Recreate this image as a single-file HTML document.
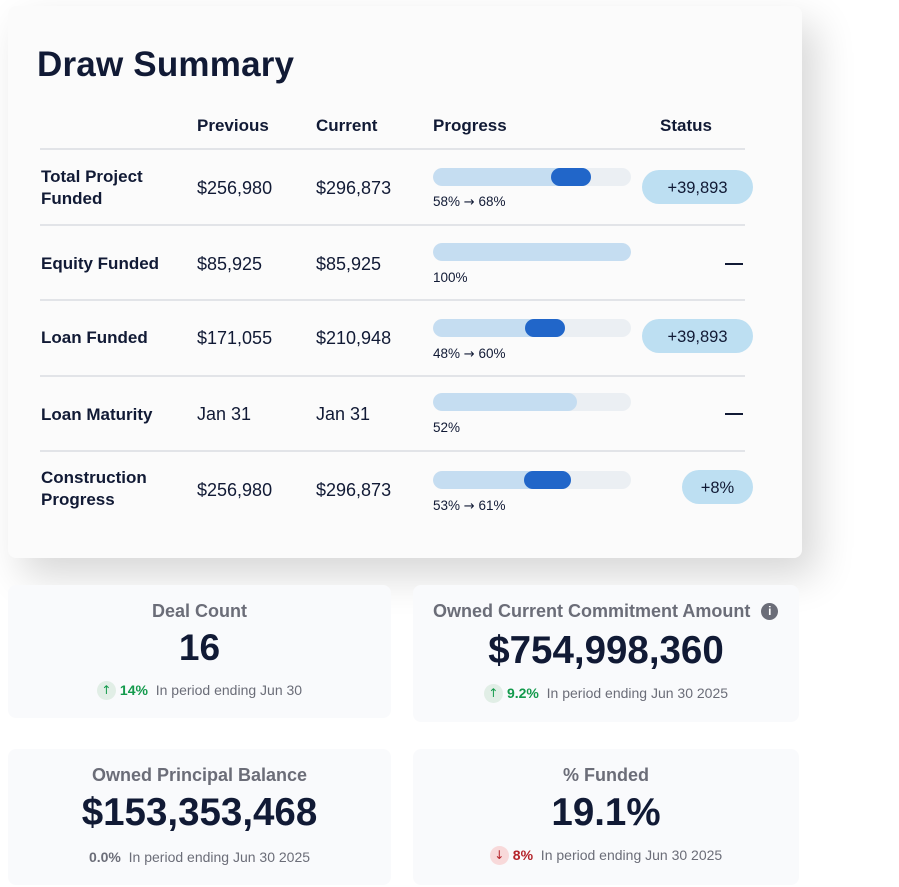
<!DOCTYPE html>
<html><head><meta charset="utf-8"><style>
*{margin:0;padding:0;box-sizing:border-box}
body{width:899px;height:887px;background:#fff;font-family:"Liberation Sans",sans-serif;color:#111a35;position:relative;overflow:hidden}
.a{position:absolute;white-space:nowrap}
.main{position:absolute;left:8px;top:6px;width:794px;height:552px;background:#fbfbfb;border-radius:8px;box-shadow:14px 18px 40px rgba(0,0,0,0.16)}
.h{font-size:17px;font-weight:bold;top:116px}
.lbl{font-size:17px;font-weight:bold;left:41px;line-height:22px}
.val{font-size:18px}
.line{position:absolute;left:40px;width:705px;height:2px;background:#e2e4e8}
.track{position:absolute;left:433px;width:198px;height:18px;border-radius:9px;background:#ebeff3;overflow:hidden}
.fill{position:absolute;left:0;top:0;height:18px;border-radius:9px;background:#c5ddf1}
.dark{position:absolute;top:0;height:18px;border-radius:9px;background:#2166c9}
.pt{font-size:13.5px;left:433px}
.ar{font-family:"DejaVu Sans",sans-serif;font-size:13px}
.pill{position:absolute;height:34px;border-radius:17px;background:#bddff2;font-size:16.5px;text-align:center;line-height:36px}
.dash{position:absolute;left:725px;width:18px;height:2px;background:#111a35}
.card{position:absolute;background:#f9fafc;border-radius:8px}
.ct{position:absolute;left:0;right:0;text-align:center;font-size:18px;font-weight:bold;color:#6b6d78}
.cv{position:absolute;left:0;right:0;text-align:center;font-size:38.5px;font-weight:bold;color:#111a35}
.cs{position:absolute;left:0;right:0;text-align:center;font-size:14px;color:#6b6d78}
.ic{display:inline-block;width:19px;height:19px;border-radius:50%;vertical-align:middle;font-family:"DejaVu Sans",sans-serif;font-size:12px;line-height:19px;text-align:center;margin-right:4px;position:relative;top:-1px}
.up{background:#e1eee6;color:#139a4c}
.dn{background:#f8d9da;color:#b4232a}
.g{color:#139a4c;font-weight:bold}
.r{color:#b4232a;font-weight:bold}
.z{color:#6b6d78;font-weight:bold}
</style></head><body>
<div class="main"></div>
<div class="a" style="left:37px;top:45px;font-size:35px;font-weight:bold;letter-spacing:0.2px">Draw Summary</div>
<div class="a h" style="left:197px">Previous</div>
<div class="a h" style="left:316px">Current</div>
<div class="a h" style="left:433px">Progress</div>
<div class="a h" style="left:660px">Status</div>
<div class="line" style="top:148px"></div>
<div class="line" style="top:224px"></div>
<div class="line" style="top:299px"></div>
<div class="line" style="top:375px"></div>
<div class="line" style="top:450px"></div>

<div class="a lbl" style="top:166px">Total Project<br>Funded</div>
<div class="a val" style="left:197px;top:178px">$256,980</div>
<div class="a val" style="left:316px;top:178px">$296,873</div>
<div class="track" style="top:168px"><div class="fill" style="width:158px"></div><div class="dark" style="left:118px;width:40px"></div></div>
<div class="a pt" style="top:194px">58% <span class="ar">→</span> 68%</div>
<div class="pill" style="left:642px;top:170px;width:111px">+39,893</div>

<div class="a lbl" style="top:253px">Equity Funded</div>
<div class="a val" style="left:197px;top:254px">$85,925</div>
<div class="a val" style="left:316px;top:254px">$85,925</div>
<div class="track" style="top:243px"><div class="fill" style="width:198px"></div></div>
<div class="a pt" style="top:270px">100%</div>
<div class="dash" style="top:263px"></div>

<div class="a lbl" style="top:327px">Loan Funded</div>
<div class="a val" style="left:197px;top:328px">$171,055</div>
<div class="a val" style="left:316px;top:328px">$210,948</div>
<div class="track" style="top:319px"><div class="fill" style="width:132px"></div><div class="dark" style="left:92px;width:40px"></div></div>
<div class="a pt" style="top:346px">48% <span class="ar">→</span> 60%</div>
<div class="pill" style="left:642px;top:319px;width:111px">+39,893</div>

<div class="a lbl" style="top:404px">Loan Maturity</div>
<div class="a val" style="left:197px;top:404px">Jan 31</div>
<div class="a val" style="left:316px;top:404px">Jan 31</div>
<div class="track" style="top:393px"><div class="fill" style="width:144px"></div></div>
<div class="a pt" style="top:420px">52%</div>
<div class="dash" style="top:413px"></div>

<div class="a lbl" style="top:467px">Construction<br>Progress</div>
<div class="a val" style="left:197px;top:480px">$256,980</div>
<div class="a val" style="left:316px;top:480px">$296,873</div>
<div class="track" style="top:471px"><div class="fill" style="width:138px"></div><div class="dark" style="left:91px;width:47px"></div></div>
<div class="a pt" style="top:498px">53% <span class="ar">→</span> 61%</div>
<div class="pill" style="left:682px;top:470px;width:71px">+8%</div>

<div class="card" style="left:8px;top:585px;width:383px;height:133px">
<div class="ct" style="top:16px">Deal Count</div>
<div class="cv" style="top:42px;font-size:37px">16</div>
<div class="cs" style="top:97px"><span class="ic up">↑</span><span class="g">14%</span>&nbsp; In period ending Jun 30</div>
</div>
<div class="card" style="left:413px;top:585px;width:386px;height:137px">
<div class="ct" style="top:16px;text-align:left;left:20px">Owned Current Commitment Amount <span style="display:inline-block;width:17px;height:17px;border-radius:50%;background:#6b6d78;color:#fff;font-size:12px;line-height:17px;text-align:center;font-weight:bold;vertical-align:middle;margin-left:6px;position:relative;top:-1px">i</span></div>
<div class="cv" style="top:44px">$754,998,360</div>
<div class="cs" style="top:100px"><span class="ic up">↑</span><span class="g">9.2%</span>&nbsp; In period ending Jun 30 2025</div>
</div>
<div class="card" style="left:8px;top:749px;width:383px;height:136px">
<div class="ct" style="top:16px">Owned Principal Balance</div>
<div class="cv" style="top:42px">$153,353,468</div>
<div class="cs" style="top:100px"><span class="z">0.0%</span>&nbsp; In period ending Jun 30 2025</div>
</div>
<div class="card" style="left:413px;top:749px;width:386px;height:136px">
<div class="ct" style="top:16px">% Funded</div>
<div class="cv" style="top:42px">19.1%</div>
<div class="cs" style="top:98px"><span class="ic dn">↓</span><span class="r">8%</span>&nbsp; In period ending Jun 30 2025</div>
</div>
</body></html>
